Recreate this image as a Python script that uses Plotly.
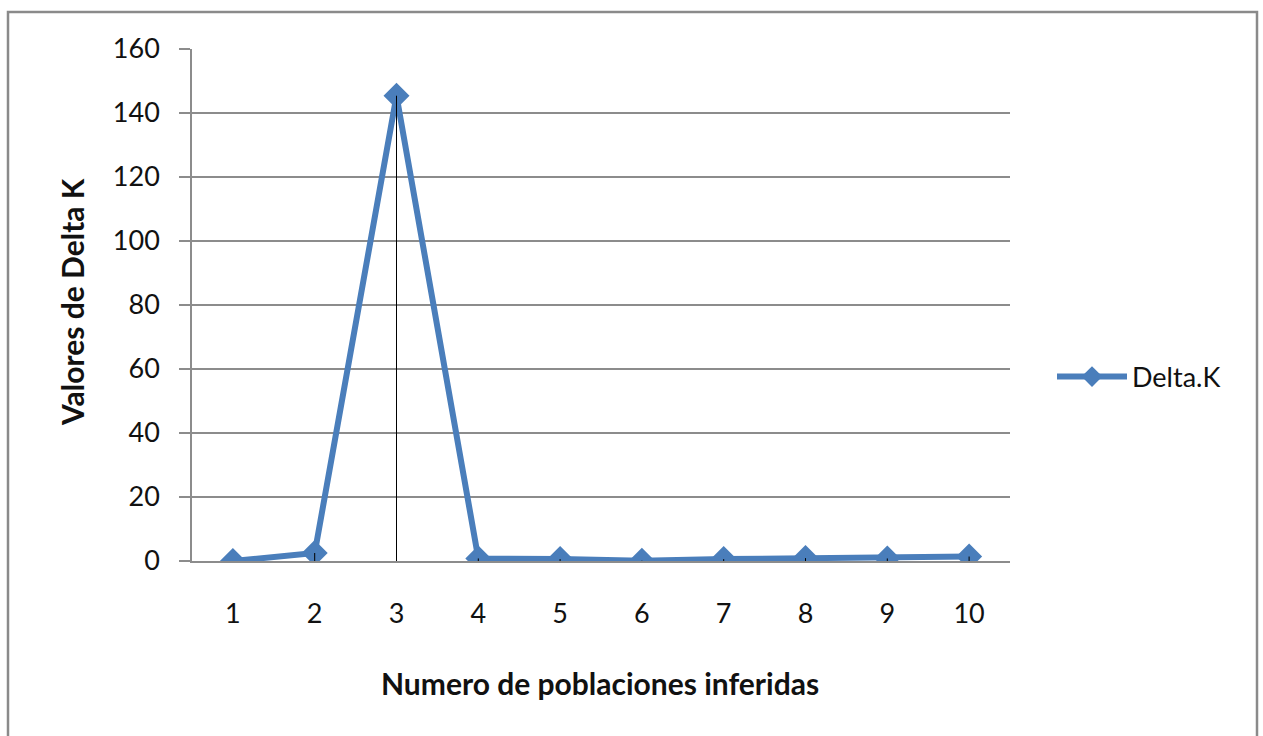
import plotly.graph_objects as go

# Delta K per number of inferred populations (K)
k_values = [1, 2, 3, 4, 5, 6, 7, 8, 9, 10]
delta_k = [0.0, 2.5, 145.4, 0.8, 0.6, 0.1, 0.6, 0.9, 0.8, 1.4]
y_ticks = [0, 20, 40, 60, 80, 100, 120, 140, 160]

series_name = "Delta.K"
x_title = "Numero de poblaciones inferidas"
y_title = "Valores de Delta K"

FONT = "Lato"
BLUE = "#4A7EBB"
GRID = "#8C8C8C"

fig = go.Figure()

fig.add_trace(go.Scatter(
    x=k_values, y=delta_k, name=series_name, mode="lines+markers",
    line=dict(color=BLUE, width=6),
    marker=dict(symbol="diamond", size=20, color=BLUE),
))

# drop lines from each point down to the category axis
drop_x, drop_y = [], []
for k, v in zip(k_values, delta_k):
    drop_x += [k, k, None]
    drop_y += [0, v, None]
fig.add_trace(go.Scatter(
    x=drop_x, y=drop_y, mode="lines", showlegend=False, hoverinfo="skip",
    line=dict(color="black", width=1),
))

fig.update_xaxes(
    range=[0.5, 10.5], tickmode="array", tickvals=k_values,
    ticktext=[str(k) for k in k_values],
    showgrid=False, zeroline=False, showline=True, linecolor=GRID, linewidth=1.5,
    ticks="", ticklabelstandoff=28,
    tickfont=dict(family=FONT, size=27, color="#111"),
)
fig.update_yaxes(
    range=[0, 160], tickmode="array", tickvals=y_ticks,
    showgrid=True, gridcolor=GRID, gridwidth=1.5, zeroline=False,
    showline=True, linecolor=GRID, linewidth=1.5,
    ticks="outside", ticklen=11, tickcolor=GRID, tickwidth=1.5,
    ticklabelstandoff=14,
    tickfont=dict(family=FONT, size=27, color="#111"),
)

# axis titles
fig.add_annotation(
    text=f"<b>{x_title}</b>", xref="paper", yref="paper",
    x=(600 - 192) / 818, y=(561 - 683) / 512, showarrow=False,
    xanchor="center", yanchor="middle",
    font=dict(family=FONT, size=30, color="#111"),
)
fig.add_annotation(
    text=f"<b>{y_title}</b>", xref="paper", yref="paper",
    x=(72 - 192) / 818, y=(561 - 302) / 512, showarrow=False, textangle=-90,
    xanchor="center", yanchor="middle",
    font=dict(family=FONT, size=30, color="#111"),
)

# chart frame
fig.add_shape(
    type="rect", xref="paper", yref="paper",
    x0=(8 - 192) / 818, x1=(1257 - 192) / 818,
    y0=(561 - 745) / 512, y1=(561 - 12) / 512,
    line=dict(color="#8A8A8A", width=2.5), fillcolor="rgba(0,0,0,0)",
)

fig.update_layout(
    width=1263, height=736,
    margin=dict(l=192, r=253, t=49, b=175),
    paper_bgcolor="white", plot_bgcolor="white",
    showlegend=True,
    legend=dict(
        x=(1052 - 192) / 818, y=(561 - 377) / 512, xanchor="left", yanchor="middle",
        font=dict(family=FONT, size=27, color="#111"),
        bgcolor="rgba(0,0,0,0)", itemwidth=70,
    ),
)

fig.write_html("out.html")
